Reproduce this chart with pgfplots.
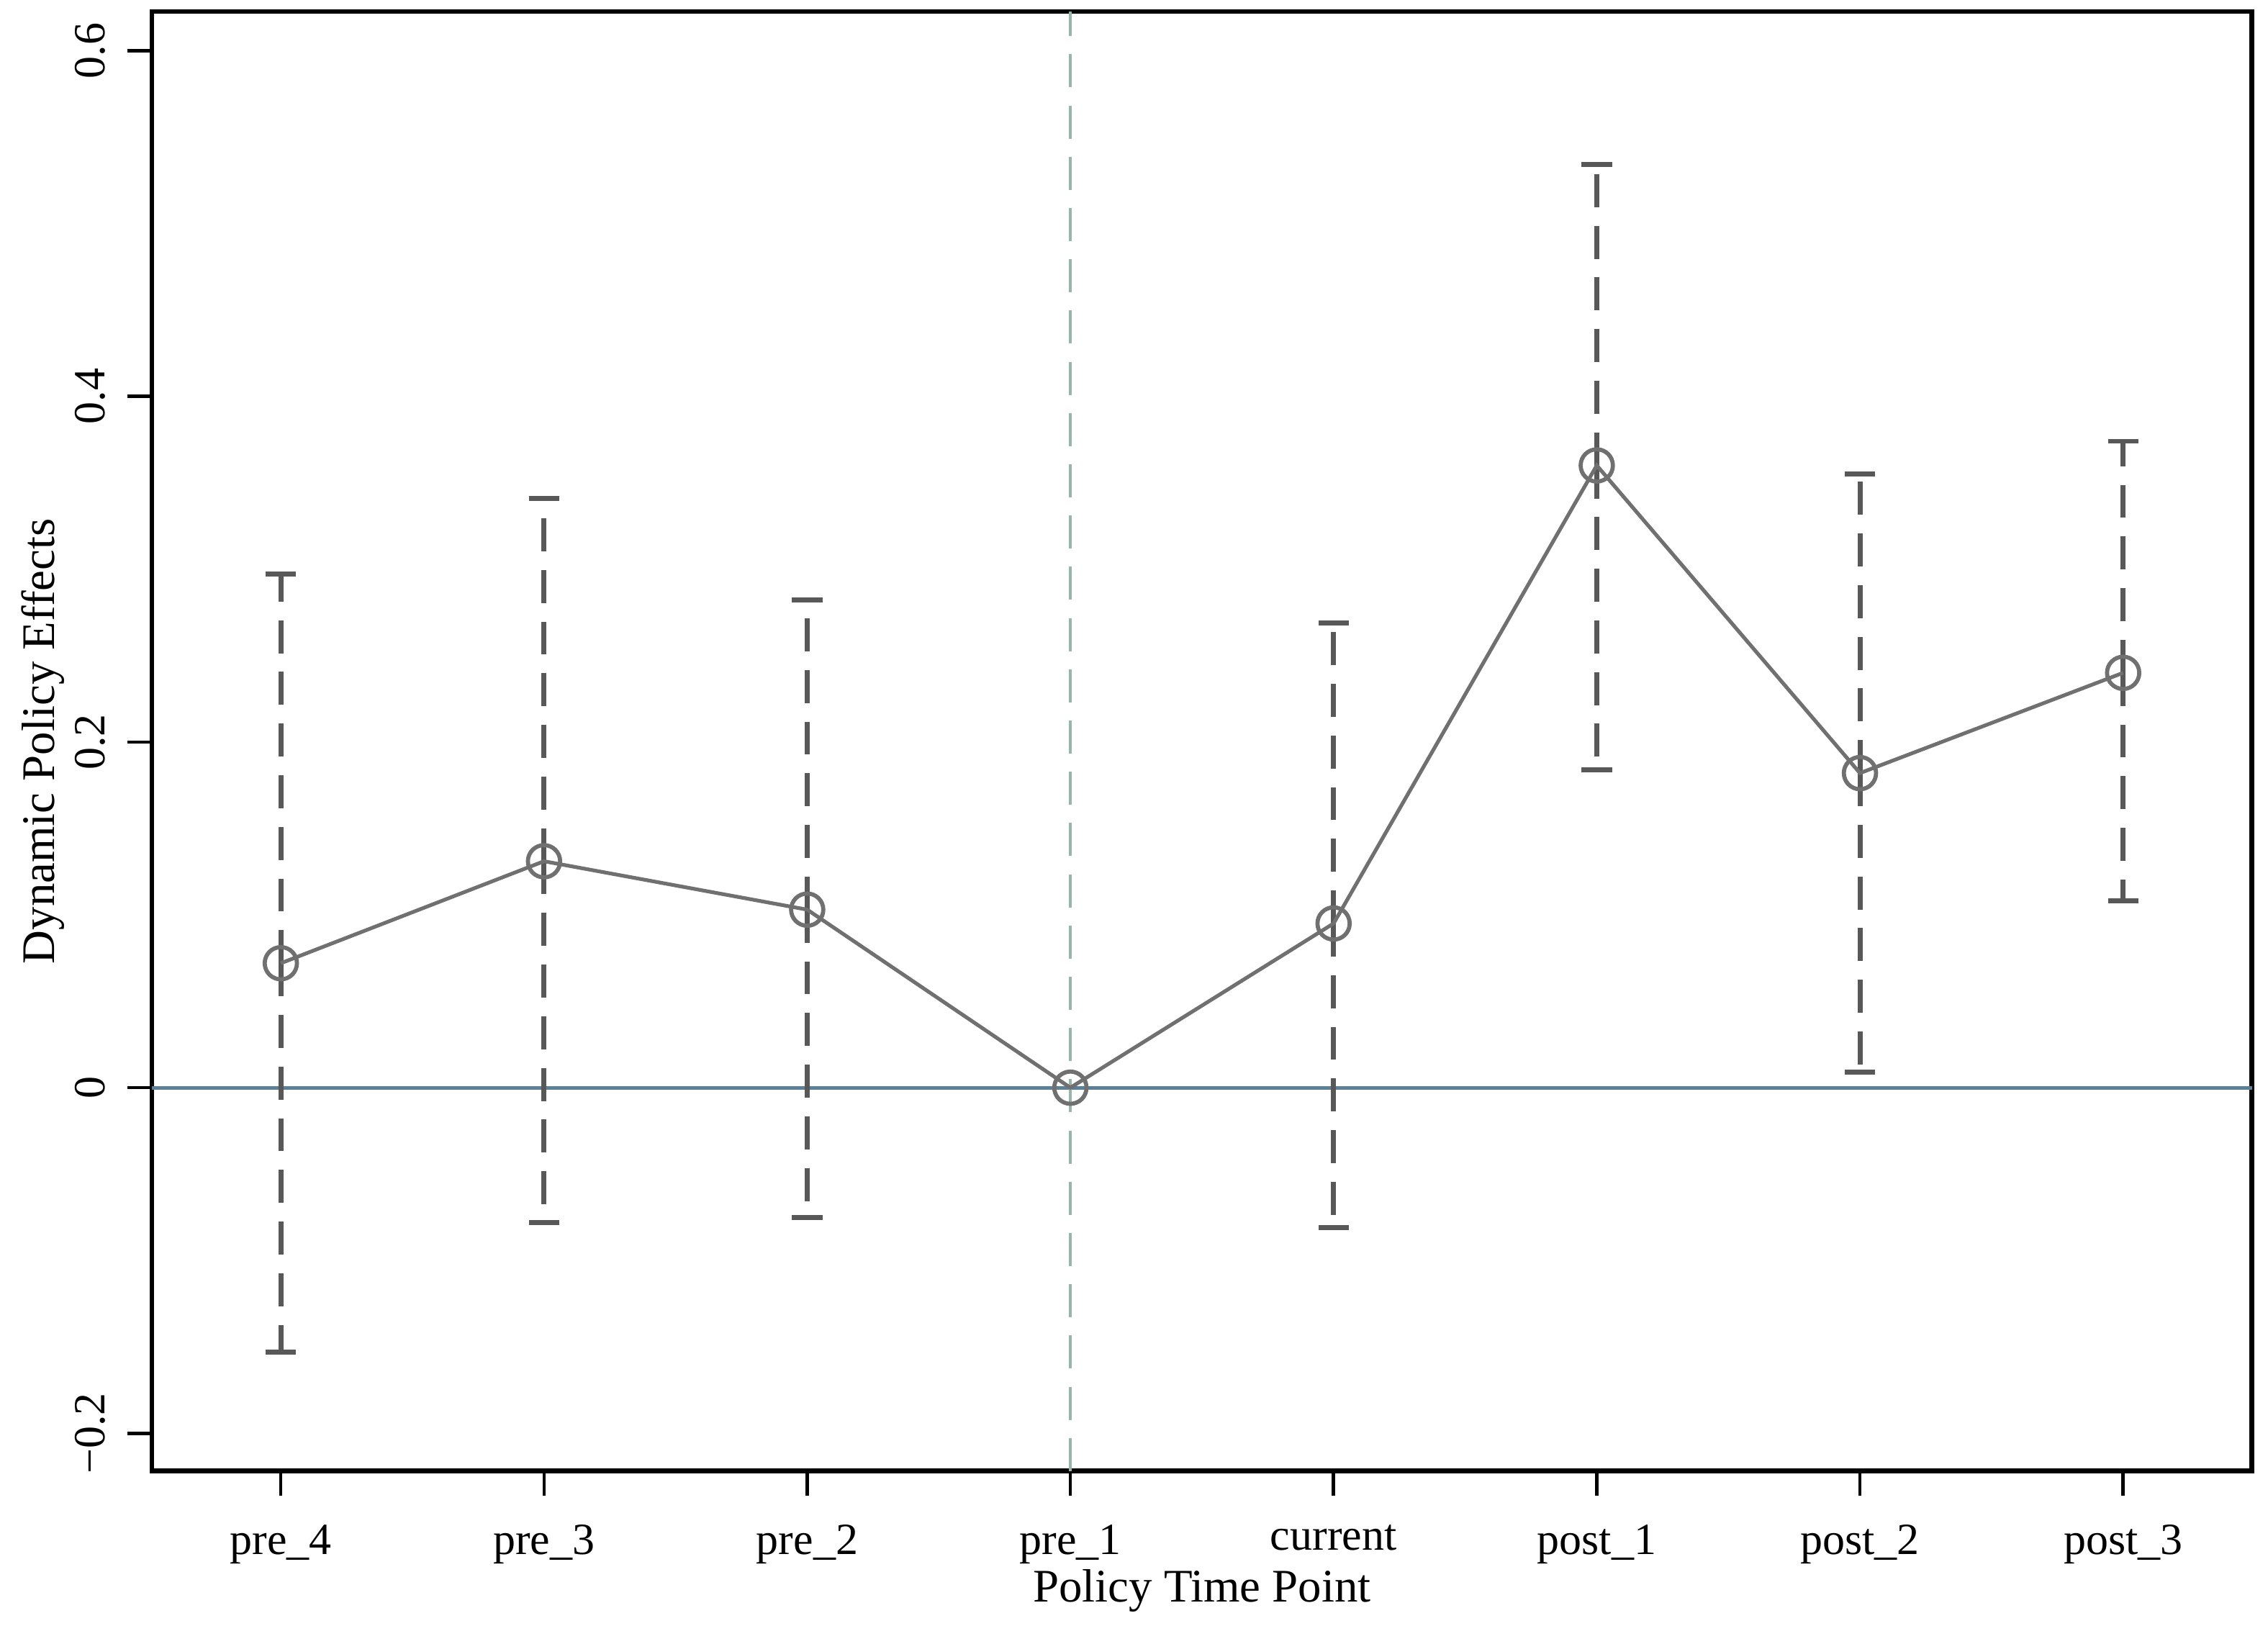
\documentclass[border=0pt]{standalone}
\usepackage{fontspec}
\setmainfont{Liberation Serif}
\usepackage{pgfplots}
\usepackage{pgfplotstable}
\pgfplotsset{compat=1.18}
\definecolor{linegray}{RGB}{112,112,112}
\definecolor{errgray}{RGB}{88,88,88}
\definecolor{vlinecol}{RGB}{150,182,170}
\definecolor{zerocol}{RGB}{92,128,152}

\pgfplotstableread{
x y eplus eminus
0 0.072 0.225 0.225
1 0.131 0.210 0.209
2 0.103 0.179 0.178
4 0.095 0.174 0.176
5 0.360 0.174 0.176
6 0.182 0.173 0.173
7 0.240 0.134 0.132
}\cidata

\pgfplotstableread{
x y
0 0.072
1 0.131
2 0.103
3 0.000
4 0.095
5 0.360
6 0.182
7 0.240
}\pointdata

\begin{document}
\begin{tikzpicture}
\begin{axis}[
  scale only axis,
  width=508.2pt, height=353.15pt,
  xmin=-0.49, xmax=7.49, ymin=-0.2218, ymax=0.6226,
  xtick={0,1,2,3,4,5,6,7},
  xticklabels={pre\_4, pre\_3, pre\_2, pre\_1, current, post\_1, post\_2, post\_3},
  ytick={-0.2,0,0.2,0.4,0.6},
  yticklabels={−0.2,0,0.2,0.4,0.6},
  yticklabel style={rotate=90, anchor=south, font=\fontsize{10.8}{12}\selectfont},
  xticklabel style={font=\fontsize{10.8}{12}\selectfont},
  xticklabel shift=3.5pt,
  yticklabel shift=1.8pt,
  tick align=outside, major tick length=6pt,
  tick style={black, line width=0.8pt},
  xtick pos=left, ytick pos=left,
  axis line style={line width=1.2pt, black},
  xlabel={Policy Time Point}, ylabel={Dynamic Policy Effects},
  label style={font=\fontsize{11.3}{13}\selectfont},
  xlabel style={yshift=5.5pt},
  ylabel shift=-4.3pt,
]
\addplot[zerocol, line width=0.9pt, forget plot] coordinates {(-0.49,0) (7.49,0)};
\addplot[vlinecol, line width=0.8pt, dash pattern=on 8pt off 4.4pt, forget plot] coordinates {(3,-0.2218) (3,0.6226)};
\addplot[draw=none, mark=none,
  error bars/.cd, y dir=both, y explicit,
  error bar style={draw=errgray, line width=1.2pt, dash pattern=on 8pt off 4.5pt},
  error mark options={draw=errgray, line width=1.2pt, solid, mark size=3.7pt, rotate=90}]
  table[x=x, y=y, y error plus=eplus, y error minus=eminus] {\cidata};
\addplot[linegray, line width=0.9pt, mark=o, mark size=3.9pt, mark options={solid, line width=1pt, linegray}]
  table[x=x, y=y] {\pointdata};
\end{axis}
\path ([xshift=-36.75pt, yshift=-37.1pt]current axis.south west) rectangle ([xshift=3.85pt, yshift=2.8pt]current axis.north east);
\end{tikzpicture}
\end{document}
